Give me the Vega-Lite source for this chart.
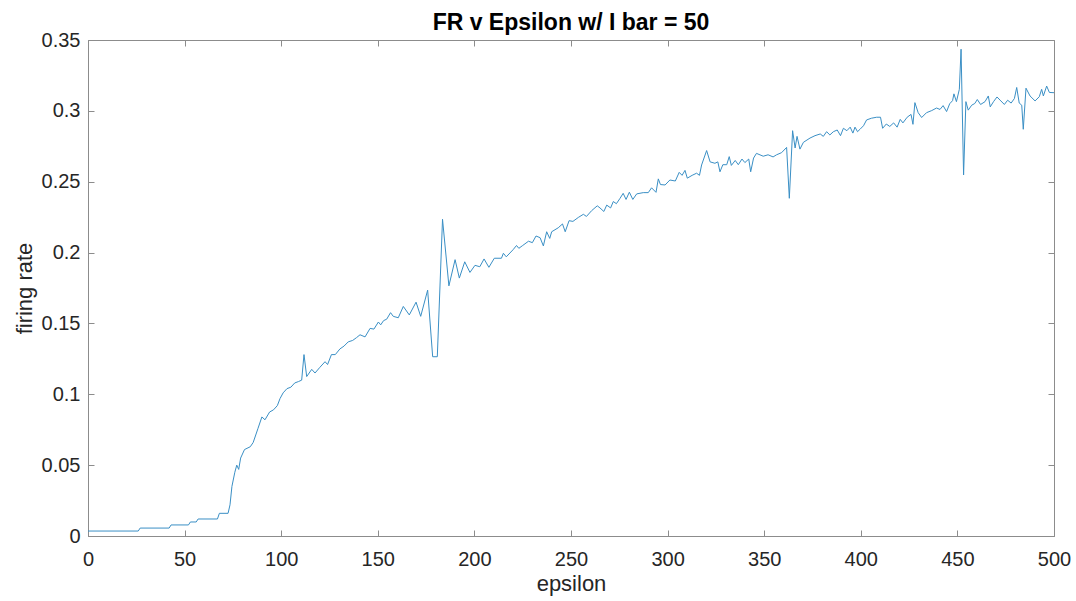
{
  "$schema": "https://vega.github.io/schema/vega-lite/v6.json",
  "autosize": {"type": "none"},
  "padding": {"left": 88, "top": 40, "right": 22, "bottom": 65},
  "width": 966,
  "height": 496,
  "background": "white",
  "title": {"text": "FR v Epsilon w/ I bar = 50", "font": "Liberation Sans", "fontSize": 23, "fontWeight": "bold", "color": "#000000", "offset": -5, "anchor": "middle"},
  "config": {
    "view": {"stroke": "#8c8c8c", "strokeWidth": 1},
    "axis": {"domainColor": "#8c8c8c", "tickColor": "#8c8c8c", "labelColor": "#262626", "titleColor": "#262626", "labelFont": "Liberation Sans", "titleFont": "Liberation Sans", "labelFontSize": 20, "titleFontSize": 22, "titleFontWeight": "normal", "grid": false, "tickSize": -6}
  },
  "data": {"values": [
    {"e":0,"r":0.0035},{"e":26,"r":0.0035},{"e":27,"r":0.0056},{"e":42,"r":0.0056},{"e":43,"r":0.0078},{"e":52,"r":0.0078},{"e":53,"r":0.0099},{"e":56,"r":0.0099},{"e":57,"r":0.012},{"e":67,"r":0.012},{"e":68,"r":0.016},{"e":72.5,"r":0.016},
    {"e":73.5,"r":0.022},{"e":74.5,"r":0.035},{"e":76,"r":0.045},{"e":77,"r":0.05},{"e":78,"r":0.047},{"e":79,"r":0.055},{"e":81,"r":0.061},{"e":84,"r":0.063},{"e":85.5,"r":0.066},{"e":88,"r":0.076},{"e":90,"r":0.084},{"e":91.6,"r":0.082},{"e":94,"r":0.0875},{"e":96,"r":0.089},{"e":98,"r":0.092},{"e":99.4,"r":0.097},
    {"e":101,"r":0.101},{"e":103,"r":0.104},{"e":105,"r":0.105},{"e":107,"r":0.108},{"e":109,"r":0.109},{"e":110.6,"r":0.11},{"e":111.8,"r":0.128},{"e":113.2,"r":0.1125},{"e":115.8,"r":0.1176},{"e":117.5,"r":0.115},{"e":120,"r":0.119},{"e":122.7,"r":0.123},{"e":124,"r":0.121},{"e":126,"r":0.128},{"e":128,"r":0.128},{"e":130.4,"r":0.132},{"e":132.5,"r":0.134},{"e":134.7,"r":0.137},{"e":137,"r":0.138},{"e":139,"r":0.14},{"e":140.8,"r":0.142},{"e":143.4,"r":0.1405},{"e":146,"r":0.1465},{"e":148,"r":0.146},{"e":150.3,"r":0.151},{"e":151.5,"r":0.149},{"e":153,"r":0.152},{"e":154.6,"r":0.153},{"e":156.6,"r":0.1576},{"e":158,"r":0.155},{"e":160.6,"r":0.154},{"e":163.2,"r":0.162},{"e":166.3,"r":0.156},{"e":169.8,"r":0.165},{"e":172.2,"r":0.155},{"e":175.8,"r":0.1735},{"e":178.4,"r":0.1265},{"e":180.8,"r":0.1265},{"e":183.5,"r":0.2235},{"e":186.8,"r":0.1765},{"e":190,"r":0.195},{"e":192.2,"r":0.182},{"e":195,"r":0.1935},{"e":197.7,"r":0.186},{"e":200.3,"r":0.191},{"e":202.8,"r":0.19},{"e":205,"r":0.1955},{"e":207.5,"r":0.1896},{"e":210.3,"r":0.196},{"e":214,"r":0.196},{"e":215,"r":0.1995},{"e":216.5,"r":0.197},{"e":220,"r":0.202},{"e":221.8,"r":0.205},{"e":223,"r":0.203},{"e":225,"r":0.205},{"e":228,"r":0.208},{"e":230,"r":0.207},{"e":231.9,"r":0.2117},{"e":234,"r":0.2105},{"e":235.7,"r":0.2047},{"e":237.4,"r":0.2147},{"e":239,"r":0.21},{"e":240,"r":0.2147},{"e":243.4,"r":0.2175},{"e":245.6,"r":0.2202},{"e":247,"r":0.2147},{"e":249,"r":0.2225},{"e":251,"r":0.222},{"e":253.8,"r":0.2248},{"e":256.4,"r":0.227},{"e":258,"r":0.2255},{"e":260.7,"r":0.2296},{"e":263.6,"r":0.233},{"e":265,"r":0.2315},{"e":267,"r":0.229},{"e":268.5,"r":0.2335},{"e":270.5,"r":0.2315},{"e":271.9,"r":0.236},{"e":273.5,"r":0.2345},{"e":275.4,"r":0.2383},{"e":277,"r":0.2418},{"e":278.5,"r":0.2375},{"e":280.2,"r":0.2426},{"e":282,"r":0.2375},{"e":284,"r":0.2414},{"e":287.4,"r":0.2423},{"e":290,"r":0.2423},{"e":291.7,"r":0.2457},{"e":294,"r":0.2425},{"e":295.2,"r":0.252},{"e":296.3,"r":0.248},{"e":298.7,"r":0.2477},
    {"e":301.2,"r":0.2512},{"e":304,"r":0.2505},{"e":306,"r":0.2566},{"e":307.5,"r":0.2545},{"e":309,"r":0.258},{"e":310.2,"r":0.2525},{"e":312.7,"r":0.2545},{"e":315,"r":0.256},{"e":316.5,"r":0.2545},{"e":317.6,"r":0.2618},{"e":320.2,"r":0.272},{"e":322,"r":0.264},{"e":324.5,"r":0.263},{"e":326,"r":0.264},{"e":327.1,"r":0.257},{"e":328.6,"r":0.262},{"e":330.6,"r":0.262},{"e":331.9,"r":0.2677},{"e":333,"r":0.2615},{"e":335,"r":0.265},{"e":336.6,"r":0.262},{"e":338.5,"r":0.266},{"e":340,"r":0.2635},{"e":342,"r":0.266},{"e":343,"r":0.257},{"e":344.5,"r":0.2667},{"e":346,"r":0.27},{"e":349.5,"r":0.268},{"e":352,"r":0.269},{"e":354.6,"r":0.2675},{"e":356.4,"r":0.269},{"e":359,"r":0.2705},{"e":361.6,"r":0.2742},{"e":363,"r":0.2383},{"e":364.7,"r":0.286},{"e":366,"r":0.2738},{"e":367,"r":0.282},{"e":368.5,"r":0.273},{"e":370.3,"r":0.2778},{"e":373.7,"r":0.2808},{"e":376.3,"r":0.2825},{"e":379,"r":0.2837},{"e":380.6,"r":0.282},{"e":382.3,"r":0.2853},{"e":384,"r":0.283},{"e":385.8,"r":0.2853},{"e":387.8,"r":0.2865},{"e":389.5,"r":0.2825},{"e":391,"r":0.2877},{"e":392.8,"r":0.286},{"e":394.5,"r":0.2885},{"e":395.9,"r":0.2843},{"e":397,"r":0.2885},{"e":398.3,"r":0.2853},{"e":399.6,"r":0.287},
    {"e":401.4,"r":0.2895},{"e":403,"r":0.2936},{"e":405.5,"r":0.2948},{"e":408.2,"r":0.2955},{"e":410.2,"r":0.2955},{"e":411.3,"r":0.2877},{"e":413.2,"r":0.2907},{"e":415,"r":0.289},{"e":417,"r":0.2915},{"e":418.8,"r":0.2885},{"e":420.4,"r":0.294},{"e":421.8,"r":0.2915},{"e":424,"r":0.2955},{"e":426,"r":0.2975},{"e":427,"r":0.2905},{"e":428,"r":0.3058},{"e":429.7,"r":0.2987},{"e":431.5,"r":0.2953},{"e":434,"r":0.2987},{"e":436.7,"r":0.3002},{"e":439.2,"r":0.302},{"e":441,"r":0.301},{"e":442.6,"r":0.3037},{"e":444.4,"r":0.2995},{"e":446,"r":0.305},{"e":447.5,"r":0.3072},{"e":448.2,"r":0.312},{"e":449.5,"r":0.3065},{"e":451,"r":0.3152},{"e":451.9,"r":0.3435},{"e":453.2,"r":0.2548},{"e":454.4,"r":0.3065},{"e":455.6,"r":0.3005},{"e":457.4,"r":0.304},{"e":459,"r":0.3052},{"e":460.3,"r":0.308},{"e":462,"r":0.3045},{"e":464.3,"r":0.3065},{"e":466,"r":0.3105},{"e":467,"r":0.3028},{"e":468.7,"r":0.3065},{"e":470.5,"r":0.3098},{"e":472.5,"r":0.307},{"e":474.3,"r":0.3045},{"e":476,"r":0.3075},{"e":477.8,"r":0.3055},{"e":479.5,"r":0.3087},{"e":480.7,"r":0.3165},{"e":482,"r":0.3055},{"e":483.3,"r":0.304},{"e":484.1,"r":0.287},{"e":485.5,"r":0.316},{"e":487.6,"r":0.3105},{"e":490.2,"r":0.307},{"e":492.4,"r":0.31},{"e":493.6,"r":0.3152},{"e":494.5,"r":0.3105},{"e":496.2,"r":0.3175},{"e":497.6,"r":0.313},{"e":500,"r":0.3128}
  ]},
  "layer": [
    {
      "mark": {"type": "line", "color": "#3a8fc5", "strokeWidth": 1, "interpolate": "linear"},
      "encoding": {
        "x": {"field": "e", "type": "quantitative", "scale": {"domain": [0, 500], "nice": false, "zero": false}, "axis": {"title": "epsilon", "values": [0,50,100,150,200,250,300,350,400,450,500], "format": "d", "labelPadding": 19, "titlePadding": 4, "labelFlush": false}},
        "y": {"field": "r", "type": "quantitative", "scale": {"domain": [0, 0.35], "nice": false}, "axis": {"title": "firing rate", "values": [0,0.05,0.1,0.15,0.2,0.25,0.3,0.35], "format": "~g", "labelPadding": 14, "titlePadding": 5, "labelFlush": false}}
      }
    },
    {
      "mark": {"type": "point", "opacity": 0},
      "encoding": {
        "x": {"field": "e", "type": "quantitative", "axis": {"orient": "top", "labels": false, "title": null, "domain": false, "values": [0,50,100,150,200,250,300,350,400,450,500]}},
        "y": {"field": "r", "type": "quantitative", "axis": {"orient": "right", "labels": false, "title": null, "domain": false, "values": [0,0.05,0.1,0.15,0.2,0.25,0.3,0.35]}}
      }
    }
  ],
  "resolve": {"axis": {"x": "independent", "y": "independent"}}
}
